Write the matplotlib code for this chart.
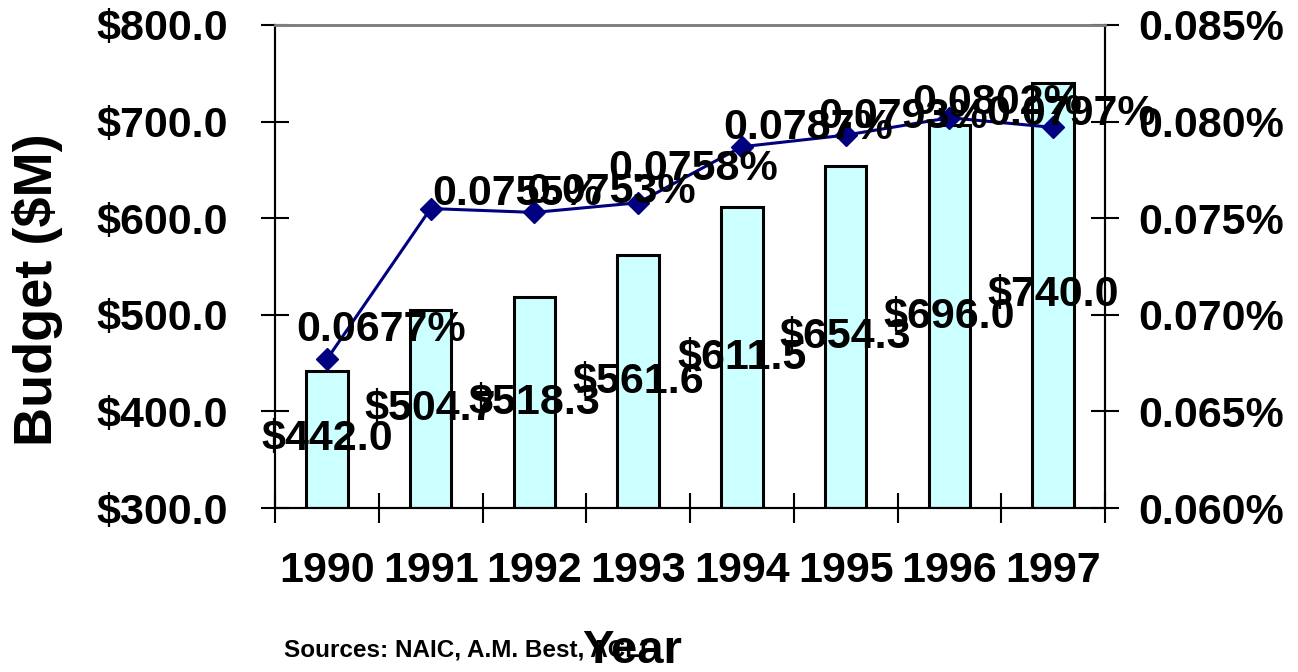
import numpy as np
import matplotlib.pyplot as plt
from matplotlib.ticker import FuncFormatter, MultipleLocator

# --- Data ---
years = ['1990', '1991', '1992', '1993', '1994', '1995', '1996', '1997']
budget = [442.0, 504.7, 518.3, 561.6, 611.5, 654.3, 696.0, 740.0]       # $M
pct_of_premium = [0.0677, 0.0755, 0.0753, 0.0758, 0.0787, 0.0793, 0.0802, 0.0797]  # %

# label offsets (pixels) for the percentage labels, as placed in the original
pct_label_offsets = [(54, 29), (86, 15), (77, 20), (55, 34), (66, 19), (57, 18), (48, 15), (18, 13)]

plt.rcParams['font.family'] = ['Liberation Sans', 'DejaVu Sans']
plt.rcParams['font.weight'] = 'bold'

fig = plt.figure(figsize=(12.98, 6.72), dpi=100)
ax = fig.add_axes([0.2119, 0.244, 0.6394, 0.7188])
ax2 = ax.twinx()

x = np.arange(len(years))
base = 300.0
fs = 31

# --- Bars (left axis) ---
ax.bar(x, np.array(budget) - base, bottom=base, width=0.40,
       color='#CCFFFF', edgecolor='black', linewidth=2.2, zorder=2)
for xi, v in zip(x, budget):
    ax.text(xi, (v + base) / 2, f'${v:.1f}', ha='center', va='center',
            fontsize=fs, fontweight='bold', color='black', zorder=5)

ax.set_xlim(-0.5, len(years) - 0.5)
ax.set_ylim(300, 800)
ax.yaxis.set_major_locator(MultipleLocator(100))
ax.yaxis.set_major_formatter(FuncFormatter(lambda v, p: f'${v:.1f}'))
ax.set_xticks(x)
ax.set_xticklabels(years)
ax.set_xticks(np.arange(-0.5, len(years)), minor=True)
ax.tick_params(axis='x', which='major', length=0, pad=31, labelsize=fs)
ax.tick_params(axis='x', which='minor', direction='inout', length=21, width=1.5)
ax.tick_params(axis='y', direction='inout', length=20, width=1.5, labelsize=fs, pad=24)
ax.set_ylabel('Budget ($M)', fontsize=39, fontweight='bold')
ax.yaxis.set_label_coords(-0.256, 0.453)

# --- Line (right axis) ---
ax2.plot(x, pct_of_premium, color='#000080', linewidth=2.2, marker='D',
         markersize=11, zorder=3)
for xi, v, (dx, dy) in zip(x, pct_of_premium, pct_label_offsets):
    ax2.annotate(f'{v:.4f}%', (xi, v), xytext=(dx, dy), textcoords='offset pixels',
                 ha='center', va='center', fontsize=fs, fontweight='bold', zorder=6)
ax2.set_ylim(0.060, 0.085)
ax2.yaxis.set_major_locator(MultipleLocator(0.005))
ax2.yaxis.set_major_formatter(FuncFormatter(lambda v, p: f'{v:.3f}%'))
ax2.tick_params(axis='y', direction='inout', length=20, width=1.5, labelsize=fs, pad=14)

for a in (ax, ax2):
    a.spines['top'].set_color('#808080')
    a.spines['top'].set_linewidth(2)
    for s in ('left', 'right', 'bottom'):
        a.spines[s].set_color('black')
        a.spines[s].set_linewidth(1.5)
ax.set_zorder(ax2.get_zorder() - 1)
ax.patch.set_visible(False)
ax2.patch.set_visible(False)

fig.text(0.219, 0.033, 'Sources: NAIC, A.M. Best, ACLI', fontsize=17.5,
         fontweight='bold', ha='left', va='center')
fig.text(0.487, 0.031, 'Year', fontsize=34, fontweight='bold', ha='center', va='center')

fig.savefig('out.png', dpi=100)
